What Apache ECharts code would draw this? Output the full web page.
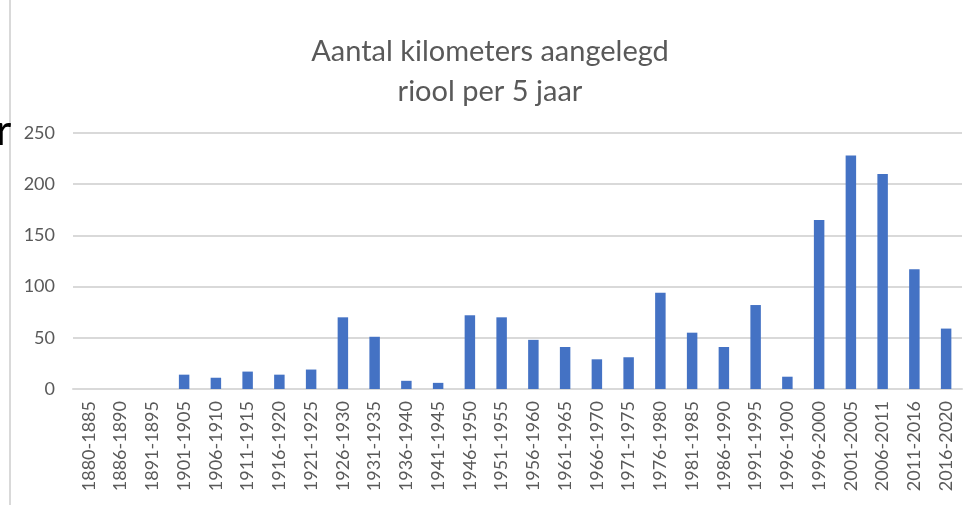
<!DOCTYPE html>
<html>
<head>
<meta charset="utf-8">
<script src="https://cdn.jsdelivr.net/npm/echarts@6/dist/echarts.min.js"></script>
<style>html,body{margin:0;padding:0;background:#fff}#c{width:980px;height:505px}</style>
</head>
<body>
<div id="c"></div>
<script>
const categories = ['1880-1885','1886-1890','1891-1895','1901-1905','1906-1910','1911-1915','1916-1920','1921-1925','1926-1930','1931-1935','1936-1940','1941-1945','1946-1950','1951-1955','1956-1960','1961-1965','1966-1970','1971-1975','1976-1980','1981-1985','1986-1990','1991-1995','1996-1900','1996-2000','2001-2005','2006-2011','2011-2016','2016-2020'];
const values = [0,0,0,14,11,17,14,19,70,51,8,6,72,70,48,41,29,31,94,55,41,82,12,165,228,210,117,59];
const yTicks = [0,50,100,150,200,250];
const titleText = 'Aantal kilometers aangelegd\nriool per 5 jaar';

const chart = echarts.init(document.getElementById('c'));
chart.setOption({
  animation: false,
  title: {
    text: titleText,
    left: 'center',
    top: 27,
    padding: [5, 5, 5, 21],
    textStyle: {fontFamily: 'Lato', fontSize: 29, fontWeight: 'normal', color: '#595959', lineHeight: 40}
  },
  grid: {left: 73, right: 18, top: 133, bottom: 116},
  xAxis: {
    type: 'category',
    data: categories,
    axisLine: {lineStyle: {color: '#d9d9d9', width: 2}},
    axisTick: {show: false},
    axisLabel: {rotate: 90, interval: 0, margin: 12, color: '#595959', fontFamily: 'Lato', fontSize: 18}
  },
  yAxis: {
    type: 'value',
    min: yTicks[0],
    max: yTicks[yTicks.length - 1],
    interval: 50,
    axisLine: {show: false},
    axisTick: {show: false},
    splitLine: {lineStyle: {color: '#d9d9d9', width: 2}},
    axisLabel: {margin: 18, color: '#595959', fontFamily: 'Lato', fontSize: 18}
  },
  series: [{
    type: 'bar',
    data: values,
    barWidth: '33%',
    itemStyle: {color: '#4472c4'}
  }],
  graphic: [
    {type: 'line', shape: {x1: 10, y1: 0, x2: 10, y2: 505}, style: {stroke: '#d9d9d9', lineWidth: 2}},
    {type: 'text', left: -4, top: 110, style: {text: 'r', fontSize: 42, fontFamily: 'Lato', fill: '#000'}}
  ]
});
</script>
</body>
</html>
